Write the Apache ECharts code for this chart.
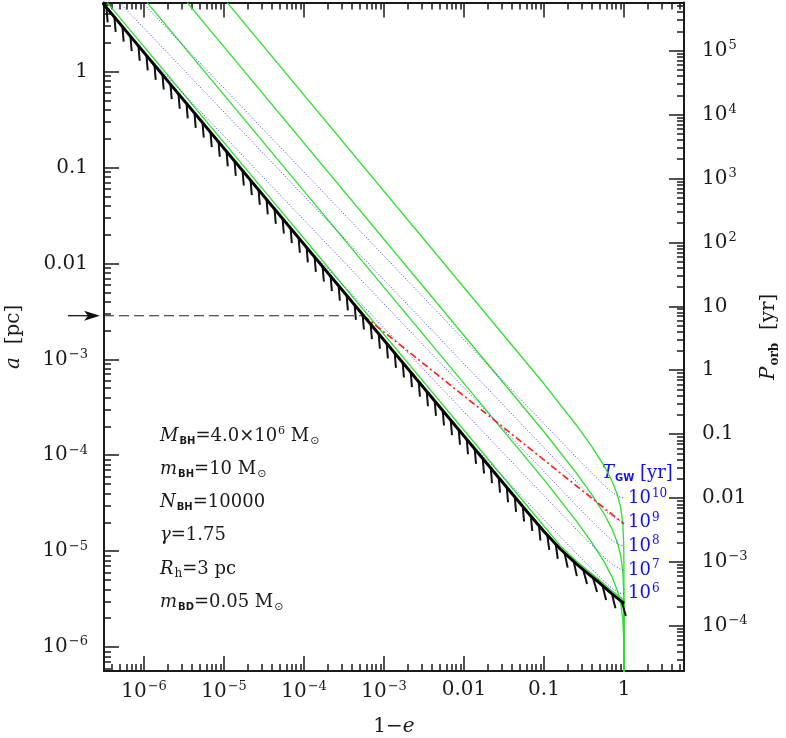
<!DOCTYPE html>
<html>
<head>
<meta charset="utf-8">
<script src="https://cdn.jsdelivr.net/npm/echarts@6/dist/echarts.min.js"></script>
<style>
  html, body { margin: 0; padding: 0; background: #fff; }
  #chart { width: 786px; height: 738px; }
</style>
</head>
<body>
<div id="chart"></div>
<script>
// everything is stored as log10: x = log10(1-e), y = log10(a / pc)
const X_MIN = -6.5, X_MAX = 0.75;
const Y_MIN = -6.25, Y_MAX = 0.72;
const KEPLER = 4.6706; // log10 P[yr] at a = 1 pc for 4e6 Msun

// loss-cone boundary (thick black, hatched below)
const boundaryX = [-6.52, -1.2, -1.0, -0.8, -0.6, -0.45, -0.3, -0.15, 0];
const boundaryY = [0.72, -4.60, -4.795, -4.975, -5.13, -5.235, -5.335, -5.445, -5.545];

// green curves
const green1X = [-6.46, -1.2, -0.8, -0.6, -0.45, -0.3, -0.15, 0, 0];
const green1Y = [0.72, -4.54, -4.94, -5.10, -5.205, -5.305, -5.415, -5.51, -6.3];
const green2X = [-5.96, -1, -0.6, -0.4, -0.25, -0.15, -0.08, -0.04, -0.015, -0.004, -0.001, 0];
const green2Y = [0.72, -4.255, -4.682, -4.913, -5.11, -5.268, -5.418, -5.552, -5.714, -5.915, -6.118, -6.3];
const green3X = [-5.46, -1, -0.6, -0.4, -0.25, -0.15, -0.08, -0.04, -0.015, -0.004, -0.001, 0];
const green3Y = [0.72, -3.755, -4.182, -4.413, -4.61, -4.768, -4.918, -5.052, -5.214, -5.415, -5.618, -6.3];
const green4X = [-4.96, -1, -0.6, -0.4, -0.25, -0.15, -0.08, -0.04, -0.015, -0.004, -0.001, 0];
const green4Y = [0.72, -3.255, -3.682, -3.913, -4.11, -4.268, -4.418, -4.552, -4.714, -4.915, -5.118, -6.3];

// T_GW contours (blue dotted)
const tgw10X = [-6.02, -1.25, -1, -0.75, -0.5, -0.25, -0.15, -0.05, 0];
const tgw10Y = [0.72, -3.453, -3.671, -3.889, -4.106, -4.313, -4.386, -4.437, -4.445];
const tgw9X = [-6.305, -1.25, -1, -0.75, -0.5, -0.25, -0.15, -0.05, 0];
const tgw9Y = [0.72, -3.703, -3.921, -4.139, -4.356, -4.563, -4.636, -4.687, -4.695];
const tgw8X = [-6.026, -1.25, -1, -0.75, -0.5, -0.25, -0.15, -0.05, 0];
const tgw8Y = [0.226, -3.953, -4.171, -4.389, -4.606, -4.813, -4.886, -4.937, -4.945];
const tgw7X = [-4.026, -1.25, -1, -0.75, -0.5, -0.25, -0.15, -0.05, 0];
const tgw7Y = [-1.774, -4.203, -4.421, -4.639, -4.856, -5.063, -5.136, -5.187, -5.195];
const tgw6X = [-2.026, -1.25, -1, -0.75, -0.5, -0.25, -0.15, -0.05, 0];
const tgw6Y = [-3.774, -4.453, -4.671, -4.889, -5.106, -5.313, -5.386, -5.437, -5.445];
const tgwLabels = ['10{s|10}', '10{s|9}', '10{s|8}', '10{s|7}', '10{s|6}'];

// red dash-dot and black dashed reference line
const redX = [-3.255, 0];
const redY = [-2.545, -4.716];
const refX = [X_MIN, -3.255];
const refY = [-2.545, -2.545];

// tick labels
const xMajor = [-6, -5, -4, -3, -2, -1, 0];
const xLabels = ['10{s|−6}', '10{s|−5}', '10{s|−4}', '10{s|−3}', '0.01', '0.1', '1'];
const yMajor = [-6, -5, -4, -3, -2, -1, 0];
const yLabels = ['10{s|−6}', '10{s|−5}', '10{s|−4}', '10{s|−3}', '0.01', '0.1', '1'];
const pMajor = [-4, -3, -2, -1, 0, 1, 2, 3, 4, 5];
const pLabels = ['10{s|−4}', '10{s|−3}', '0.01', '0.1', '1', '10', '10{s|2}', '10{s|3}', '10{s|4}', '10{s|5}'];

const P_MIN = 1.5 * Y_MIN + KEPLER, P_MAX = 1.5 * Y_MAX + KEPLER;

const SERIF = 'DejaVu Serif';
const INK = '#1a1a1a';

function minorTicks(lo, hi) {
  const out = [];
  for (let n = Math.floor(lo) - 1; n <= Math.ceil(hi); n++) {
    for (let k = 2; k <= 9; k++) {
      const v = n + Math.log10(k);
      if (v > lo && v < hi) out.push(v);
    }
  }
  return out;
}
const pairs = (xs, ys) => xs.map((x, i) => [x, ys[i]]);
const pick = (majors, labels) => v => {
  const i = majors.indexOf(Math.round(v));
  return i < 0 ? '' : labels[i];
};

const labelRich = { s: { fontFamily: SERIF, fontSize: 13, color: INK, padding: [0, 0, 10, 1] } };
const frameLine = { show: true, onZero: false, lineStyle: { color: INK, width: 2 } };
const noLine = { show: false, onZero: false };

function axis(kind, position, min, max, values, len, extra) {
  return Object.assign({
    type: 'value', position, min, max, offset: 0,
    axisLine: noLine,
    splitLine: { show: false },
    axisTick: { show: true, inside: true, length: len, customValues: values,
                lineStyle: { color: INK, width: 1.5 } },
    axisLabel: { show: false }
  }, extra || {});
}

const majorLabel = (values, fmt, margin) => ({
  show: true, customValues: values, formatter: fmt, margin,
  fontFamily: SERIF, fontSize: 20, color: INK, rich: labelRich
});

const xAxes = [
  axis('x', 'bottom', X_MIN, X_MAX, xMajor, 15, {
    axisLine: frameLine,
    axisLabel: majorLabel(xMajor, pick(xMajor, xLabels), 9),
    name: '1−{i|e}', nameLocation: 'middle', nameGap: 46,
    nameTextStyle: { fontFamily: SERIF, fontSize: 20, color: INK,
      rich: { i: { fontFamily: SERIF, fontStyle: 'italic', fontSize: 20, color: INK } } }
  }),
  axis('x', 'bottom', X_MIN, X_MAX, minorTicks(X_MIN, X_MAX), 7),
  axis('x', 'top', X_MIN, X_MAX, xMajor, 15, { axisLine: frameLine }),
  axis('x', 'top', X_MIN, X_MAX, minorTicks(X_MIN, X_MAX), 7)
];

const yAxes = [
  axis('y', 'left', Y_MIN, Y_MAX, yMajor, 15, {
    axisLine: frameLine,
    axisLabel: majorLabel(yMajor, pick(yMajor, yLabels), 16),
    name: '{i|a}  [pc]', nameLocation: 'middle', nameGap: 80, nameRotate: 90,
    nameTextStyle: { fontFamily: SERIF, fontSize: 20, color: INK,
      rich: { i: { fontFamily: SERIF, fontStyle: 'italic', fontSize: 20, color: INK } } }
  }),
  axis('y', 'left', Y_MIN, Y_MAX, minorTicks(Y_MIN, Y_MAX), 7),
  axis('y', 'right', P_MIN, P_MAX, pMajor, 15, {
    axisLine: frameLine,
    axisLabel: majorLabel(pMajor, pick(pMajor, pLabels), 18),
    name: '{i|P}{o|orb}  [yr]', nameLocation: 'middle', nameGap: 72, nameRotate: 90,
    nameTextStyle: { fontFamily: SERIF, fontSize: 20, color: INK,
      rich: {
        i: { fontFamily: SERIF, fontStyle: 'italic', fontSize: 20, color: INK },
        o: { fontFamily: SERIF, fontWeight: 'bold', fontSize: 12, color: INK, padding: [12, 0, 0, 1] }
      } }
  }),
  axis('y', 'right', P_MIN, P_MAX, minorTicks(P_MIN, P_MAX), 7)
];

const greenStyle = { color: '#2de02d', width: 1.3 };
const blueStyle = { color: '#3b3bff', width: 1, type: [1, 2] };

function lineSeries(xs, ys, style, z, extra) {
  return Object.assign({
    type: 'line', data: pairs(xs, ys), showSymbol: false, symbol: 'none',
    lineStyle: style, z, silent: true, clip: true
  }, extra || {});
}

const tgwSeries = [
  [tgw10X, tgw10Y], [tgw9X, tgw9Y], [tgw8X, tgw8Y], [tgw7X, tgw7Y], [tgw6X, tgw6Y]
].map(([xs, ys], i) => lineSeries(xs, ys, blueStyle, 3, {
  endLabel: {
    show: true, formatter: tgwLabels[i], distance: 4,
    fontFamily: SERIF, fontSize: 18, color: '#1010f0',
    rich: { s: { fontFamily: SERIF, fontSize: 12, color: '#1010f0', padding: [0, 0, 9, 1] } }
  }
}));

// hatch ticks hang off the lower-left side of the boundary
const HATCH_STEP = 12.5, HATCH_LEN = 15, HATCH_ANGLE = 35 * Math.PI / 180;

function renderHatch(params, api) {
  const cs = params.coordSys;
  const pts = boundaryX.map((x, i) => api.coord([x, boundaryY[i]]));
  const ca = Math.cos(HATCH_ANGLE), sa = Math.sin(HATCH_ANGLE);
  const children = [];
  let s0 = HATCH_STEP / 2;
  for (let i = 1; i < pts.length; i++) {
    const [x0, y0] = pts[i - 1], [x1, y1] = pts[i];
    const len = Math.hypot(x1 - x0, y1 - y0);
    const tx = (x1 - x0) / len, ty = (y1 - y0) / len;
    const hx = tx * ca - ty * sa, hy = tx * sa + ty * ca;
    let s = s0;
    for (; s <= len; s += HATCH_STEP) {
      const px = x0 + tx * s, py = y0 + ty * s;
      const ex = px + hx * HATCH_LEN, ey = py + hy * HATCH_LEN;
      if (px < cs.x || ex < cs.x || py < cs.y || ey > cs.y + cs.height) continue;
      children.push({ type: 'line', shape: { x1: px, y1: py, x2: ex, y2: ey },
        style: { stroke: '#111', lineWidth: 2 } });
    }
    s0 = s - len;
  }
  return { type: 'group', children };
}

function renderArrow(params, api) {
  const p = api.coord([X_MIN, refY[0]]);
  const tip = p[0] - 4, y = p[1];
  return { type: 'group', children: [
    { type: 'line', shape: { x1: tip - 32, y1: y, x2: tip - 8, y2: y }, style: { stroke: '#111', lineWidth: 1.3 } },
    { type: 'polygon', shape: { points: [[tip, y], [tip - 16, y - 5], [tip - 12, y], [tip - 16, y + 5]] },
      style: { fill: '#111' } }
  ] };
}

const legendRich = {
  i: { fontFamily: SERIF, fontStyle: 'italic', fontSize: 18, fill: INK },
  r: { fontFamily: SERIF, fontSize: 18, fill: INK },
  b: { fontFamily: 'DejaVu Sans', fontWeight: 'bold', fontSize: 10, fill: INK, padding: [11, 0, 0, 1] },
  h: { fontFamily: SERIF, fontSize: 12, fill: INK, padding: [10, 0, 0, 1] },
  o: { fontFamily: 'DejaVu Sans', fontSize: 11, fill: INK, padding: [10, 0, 0, 1] },
  p: { fontFamily: SERIF, fontSize: 11, fill: INK, padding: [0, 0, 10, 1] }
};
const legendLines = [
  '{i|M}{b|BH}{r|=4.0×10}{p|6}{r| M}{o|⊙}',
  '{i|m}{b|BH}{r|=10 M}{o|⊙}',
  '{i|N}{b|BH}{r|=10000}',
  '{i|γ}{r|=1.75}',
  '{i|R}{h|h}{r|=3 pc}',
  '{i|m}{b|BD}{r|=0.05 M}{o|⊙}'
];
const legendTop = [436, 469, 502, 535, 569, 602];

const chart = echarts.init(document.getElementById('chart'), null, { renderer: 'canvas' });
chart.setOption({
  animation: false,
  backgroundColor: '#fff',
  grid: { left: 104, top: 2.6, width: 580, height: 668.4, containLabel: false, outerBoundsMode: 'none' },
  xAxis: xAxes,
  yAxis: yAxes,
  graphic: legendLines.map((t, i) => ({
    type: 'text', x: 160, y: legendTop[i],
    style: { text: t, rich: legendRich, verticalAlign: 'middle', align: 'left' }
  })).concat([{
    type: 'text', x: 602, y: 473,
    style: {
      text: '{i|T}{b|GW}{r| [yr]}', verticalAlign: 'middle', align: 'left',
      rich: {
        i: { fontFamily: SERIF, fontStyle: 'italic', fontSize: 18, fill: '#1010f0' },
        r: { fontFamily: SERIF, fontSize: 18, fill: '#1010f0' },
        b: { fontFamily: 'DejaVu Sans', fontWeight: 'bold', fontSize: 10, fill: '#1010f0', padding: [11, 0, 0, 1] }
      }
    }
  }]),
  series: [
    lineSeries(green1X, green1Y, greenStyle, 2),
    lineSeries(green2X, green2Y, greenStyle, 2),
    lineSeries(green3X, green3Y, greenStyle, 2),
    lineSeries(green4X, green4Y, greenStyle, 2),
    ...tgwSeries,
    lineSeries(redX, redY, { color: '#ff1a1a', width: 1.6, type: [7, 3, 2, 3] }, 4),
    lineSeries(refX, refY, { color: '#222', width: 1.1, type: [10, 5] }, 4),
    lineSeries(boundaryX, boundaryY, { color: '#000', width: 3 }, 6),
    { type: 'custom', renderItem: renderHatch, data: [[0, 0]], z: 6, silent: true, clip: false },
    { type: 'custom', renderItem: renderArrow, data: [[0, 0]], z: 6, silent: true, clip: false }
  ]
});
window.addEventListener('resize', function () { chart.resize(); });
</script>
</body>
</html>
